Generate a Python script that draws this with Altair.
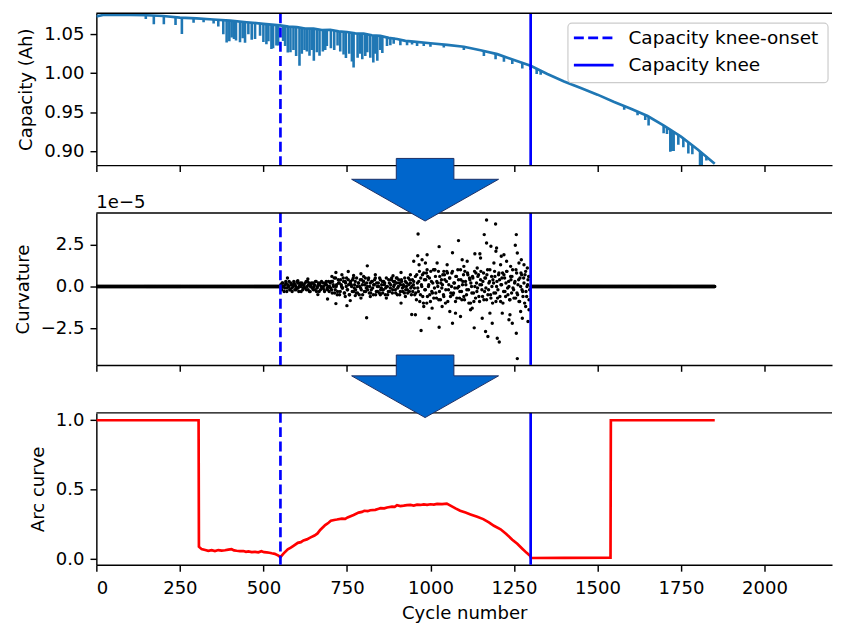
import altair as alt
import pandas as pd
import numpy as np

FONT = "DejaVu Sans"
FS = 18.2
W = 741
H = 153
XMAX = 2202
KNEE_ONSET = 551
KNEE = 1300

# ---- Capacity (Ah): baseline trace ----
cap_cycles = [0, 20, 100, 150, 200, 250, 300, 350, 400, 450, 500, 550, 575, 600, 625, 650,
              675, 700, 725, 750, 775, 800, 825, 850, 875, 900, 925, 950, 1000, 1050, 1100,
              1150, 1200, 1250, 1300, 1350, 1400, 1450, 1500, 1550, 1600, 1650, 1700, 1750,
              1800, 1851]
cap_values = [1.073, 1.0748, 1.075, 1.0745, 1.0735, 1.0715, 1.0705, 1.069, 1.0675, 1.0655,
              1.0635, 1.0615, 1.0598, 1.0592, 1.0575, 1.0572, 1.0555, 1.0558, 1.0538, 1.053,
              1.0512, 1.0508, 1.0488, 1.048, 1.0455, 1.044, 1.0415, 1.0405, 1.0385, 1.0365,
              1.034, 1.0295, 1.0245, 1.017, 1.0095, 0.999, 0.9895, 0.981, 0.9725, 0.963,
              0.9545, 0.945, 0.9325, 0.9185, 0.902, 0.8837]

# ---- Capacity dips (cycle, top, bottom) ----
dip_cycles = [148, 172, 202, 237, 256, 291, 321, 351, 365, 380, 390, 398, 405, 412, 418,
              430, 438, 445, 455, 465, 475, 490, 500, 509, 515, 524, 529, 539, 544, 559,
              565, 573, 581, 590, 598, 608, 615, 623, 630, 638, 645, 651, 660, 668, 678,
              685, 690, 702, 712, 722, 730, 740, 747, 757, 765, 770, 782, 790, 796, 805,
              811, 820, 829, 835, 841, 850, 856, 870, 880, 890, 910, 930, 945, 960, 980,
              1000, 1040, 1100, 1160, 1195, 1220, 1245, 1275, 1300, 1318, 1330, 1580,
              1620, 1643, 1653, 1698, 1708, 1718, 1722, 1728, 1742, 1757, 1772, 1784,
              1807, 1812, 1826]
dip_tops = [1.0745, 1.0742, 1.0735, 1.072, 1.0715, 1.0705, 1.070, 1.069, 1.0685, 1.068,
            1.068, 1.0678, 1.0675, 1.0672, 1.067, 1.0665, 1.066, 1.066, 1.0655, 1.065,
            1.0648, 1.064, 1.0638, 1.0632, 1.063, 1.0625, 1.0622, 1.062, 1.0618, 1.061,
            1.0608, 1.0605, 1.060, 1.0597, 1.0593, 1.0588, 1.0585, 1.058, 1.0578, 1.0575,
            1.0572, 1.057, 1.0568, 1.0565, 1.056, 1.0558, 1.0558, 1.0555, 1.055, 1.0545,
            1.054, 1.0535, 1.053, 1.0525, 1.0522, 1.052, 1.0513, 1.051, 1.0507, 1.0503,
            1.050, 1.0495, 1.049, 1.0488, 1.0485, 1.048, 1.0477, 1.047, 1.046, 1.0455,
            1.0435, 1.042, 1.041, 1.040, 1.039, 1.0385, 1.037, 1.034, 1.0285, 1.025,
            1.0215, 1.018, 1.0135, 1.0095, 1.006, 1.004, 0.958, 0.951, 0.9465, 0.945,
            0.933, 0.930, 0.928, 0.927, 0.925, 0.921, 0.916, 0.911, 0.907, 0.8995, 0.898,
            0.893]
dip_bottoms = [1.0695, 1.063, 1.063, 1.0618, 1.0504, 1.065, 1.0655, 1.064, 1.060, 1.050,
               1.0395, 1.041, 1.046, 1.044, 1.042, 1.0398, 1.045, 1.039, 1.050, 1.043,
               1.044, 1.048, 1.040, 1.0373, 1.041, 1.031, 1.032, 1.0355, 1.0355, 1.0415,
               1.035, 1.0266, 1.027, 1.030, 1.022, 1.0097, 1.025, 1.030, 1.028, 1.0224,
               1.030, 1.016, 1.027, 1.0224, 1.028, 1.030, 1.035, 1.032, 1.030, 1.0355,
               1.028, 1.024, 1.0195, 1.025, 1.015, 1.0075, 1.020, 1.025, 1.018, 1.022,
               1.027, 1.020, 1.0139, 1.025, 1.016, 1.030, 1.026, 1.035, 1.036, 1.038,
               1.036, 1.036, 1.037, 1.035, 1.035, 1.034, 1.033, 1.030, 1.022, 1.018,
               1.0148, 1.012, 1.006, 1.004, 0.999, 0.998, 0.953, 0.946, 0.940, 0.933,
               0.923, 0.922, 0.899, 0.900, 0.900, 0.908, 0.905, 0.897, 0.896, 0.882, 0.882,
               0.888]

# ---- Curvature (units of 1e-5) ----
flat_before = list(range(0, KNEE_ONSET))
flat_after = list(range(KNEE + 1, 1852))
band_early = [0.1, -0.2, 0.2, 0.0, -0.1, 0.3, -0.3, 0.1, 0.0, -0.2, 0.2, -0.1, 0.1, 0.3,
              -0.2, 0.0, -0.1, 0.2, -0.3, 0.1, 0.0, 0.2, -0.2, 0.1, -0.1, 0.3, 0.0, -0.2,
              0.2, -0.3, 0.1, -0.1, 0.2, 0.0, -0.2, 0.3, -0.1, 0.1, -0.3, 0.2, 0.0, -0.1,
              0.2, -0.2, 0.1, 0.3, -0.1, 0.0, -0.3, 0.2]
band_early2 = [-0.1, 0.2, 0.0, -0.3, 0.1, 0.2, -0.1, 0.0, 0.3, -0.2, 0.1, -0.3, 0.0, 0.2,
               0.1, -0.2, 0.3, -0.1, 0.0, 0.2, -0.3, 0.1, -0.1, 0.0, 0.2, -0.2, 0.3, 0.1,
               -0.3, 0.0, 0.2, -0.1, -0.2, 0.1, 0.3, -0.3, 0.0, 0.2, 0.1, -0.2, 0.3, -0.1,
               0.0, -0.3, 0.2, 0.1, -0.2, 0.3, 0.0, -0.1]
band_mid = [0.3, -0.4, 0.1, 0.5, -0.2, 0.0, -0.5, 0.4, 0.2, -0.3, 0.1, -0.1, 0.5, -0.4,
            0.3, 0.0, -0.2, 0.4, -0.5, 0.2, 0.1, -0.3, 0.5, -0.1, 0.3, -0.4, 0.0, 0.2,
            -0.5, 0.4, -0.2, 0.1, 0.3, -0.3, 0.5, -0.1, 0.0, 0.4, -0.4, 0.2, -0.2, 0.3,
            -0.5, 0.1, 0.5, -0.3, 0.0, 0.2, -0.4, 0.4, -0.1, 0.3, -0.2, 0.1, -0.5, 0.5,
            0.0, -0.3, 0.2, -0.1, 0.4, -0.4, 0.3, 0.1, -0.2, 0.5, -0.5, 0.0, 0.2, -0.3,
            0.4, -0.1, 0.1, -0.4, 0.3, 0.0, -0.2, 0.5, -0.3, 0.2, -0.5, 0.4, 0.1, -0.1]
band_mid2 = [-0.2, 0.3, 0.0, -0.4, 0.5, 0.1, -0.3, 0.2, -0.5, 0.4, 0.0, -0.1, 0.3, -0.4,
             0.2, 0.5, -0.2, 0.1, -0.5, 0.3, 0.0, 0.4, -0.3, 0.1, -0.2, 0.5, -0.4, 0.2,
             0.0, -0.1, 0.4, -0.5, 0.3, 0.1, -0.3, 0.2, -0.2, 0.5, 0.0, -0.4, 0.3, -0.1,
             0.1, 0.4, -0.5, 0.2, -0.3, 0.0, 0.5, -0.2, 0.1, -0.4, 0.3, 0.2, -0.1, 0.0,
             -0.5, 0.4, -0.3, 0.1, 0.5, -0.2, 0.0, 0.3, -0.4, 0.2, -0.1, 0.4, -0.5, 0.1,
             0.3, -0.3, 0.0, 0.5, -0.2, 0.2, -0.4, 0.1, 0.4, -0.1, 0.0, -0.3, 0.3, -0.5]
band_late = [0.6, -0.8, 0.2, -0.3, 0.9, -0.5, 0.1, 0.7, -1.0, 0.4, -0.2, 0.8, -0.6, 0.0,
             0.5, -0.9, 0.3, -0.4, 1.0, -0.1, 0.6, -0.7, 0.2, 0.9, -0.3, -0.8, 0.4, 0.1,
             -0.5, 0.7, -1.0, 0.3, 0.8, -0.2, 0.5, -0.6, 0.0, 0.9, -0.4, 0.2, -0.9, 0.6,
             -0.1, 0.4, -0.7, 1.0, -0.3, 0.1, 0.7, -0.8, 0.3, -0.5, 0.8, -0.2, 0.5, -1.0,
             0.0, 0.6, -0.4, 0.9, -0.7, 0.2, -0.1, 0.7, -0.9, 0.4, 0.1, -0.6, 0.8, -0.3,
             0.5, -0.8, 1.0, -0.2, 0.3, -0.5, 0.6, -1.0, 0.2, 0.9, -0.4, 0.0, -0.7, 0.7,
             0.4, -0.9, 0.1, 0.8, -0.3, 0.5, -0.6, 0.9, -0.1, 0.3, -0.8, 0.6, -0.4, 1.0,
             -0.2, 0.2, -0.7, 0.8, -0.5, 0.4, -0.9, 0.0, 0.7, -0.3, 0.5, -1.0, 0.9, -0.6,
             0.1, 0.6, -0.2]
band_late2 = [-0.4, 0.7, -0.1, 0.3, -0.9, 0.5, 0.0, -0.6, 0.8, -0.2, 0.4, -1.0, 0.6, 0.1,
              -0.5, 0.9, -0.3, 0.2, -0.7, 1.0, -0.4, 0.3, 0.0, -0.8, 0.6, 0.2, -0.1, 0.7,
              -0.6, 0.4, -0.2, 0.9, -0.9, 0.1, 0.5, -0.4, 0.8, -0.5, 0.2, -0.1, 0.6, -0.7,
              1.0, 0.0, -0.3, 0.4, -0.8, 0.3, -0.6, 0.9, 0.1, -0.2, 0.7, -1.0, 0.4, 0.2,
              -0.4, 0.5, -0.9, 0.0, 0.8, -0.3, 0.6, -0.6, 0.1, 0.9, -0.2, 0.3, -0.8, 0.5,
              -0.1, 0.7, -0.5, 0.2, 1.0, -0.7, 0.0, 0.4, -0.4, 0.6, -0.9, 0.3, -0.2, 0.8,
              -0.6, 0.1, 0.5, -1.0, 0.7, -0.3, 0.2, 0.9, -0.5, 0.0, -0.8, 0.4, 0.6, -0.1,
              -0.7, 0.3, 1.0, -0.4, 0.1, -0.9, 0.5, 0.8, -0.2, -0.6, 0.2, 0.7, -0.3, 0.0,
              0.4, -0.8, 0.6]
out_cycles = [572, 603, 633, 663, 692, 705, 717, 717, 735, 745, 750, 754, 760, 770, 775,
              792, 792, 800, 809, 811, 820, 835, 850, 868, 888, 900, 912, 912, 925, 940,
              944, 950, 955, 962, 963, 966, 972, 975, 985, 990, 990, 996, 1005, 1013, 1026,
              1026, 1035, 1040, 1050, 1066, 1066, 1075, 1084, 1090, 1100, 1110, 1120, 1131,
              1133, 1140, 1148, 1155, 1161, 1165, 1168, 1168, 1172, 1181, 1185, 1190, 1195,
              1196, 1198, 1200, 1206, 1210, 1215, 1220, 1228, 1235, 1240, 1245, 1254, 1257,
              1257, 1260, 1260, 1265, 1270, 1275, 1280, 1285, 1290, 1295,
              980, 1020, 1058, 1095, 1125, 1150, 1178, 1212, 1238, 1272, 1292]
out_values = [0.5, 0.34, 0.45, -0.49, -0.75, 0.6, 0.83, -1.03, 0.7, -0.6, -1.15, 0.89,
              -0.85, 0.65, -0.55, 0.76, -0.7, 0.6, -1.88, 1.23, -0.6, 0.7, -0.5, -0.7, 0.64,
              0.5, 0.83, -1.0, -0.6, 0.7, -1.68, 1.5, -1.7, 1.84, 3.14, 1.3, -2.64, 1.6, 1.4,
              1.9, 1.0, -1.9, -1.3, 1.0, 2.38, -2.44, -1.2, 0.9, 1.3, 2.02, -2.2, -1.6, 2.74,
              -1.8, 1.2, 1.5, -1.4, -2.48, 1.95, 1.1, 1.95, -1.9, 3.1, -2.7, 3.97, 2.6, -3.0,
              2.4, -2.2, 1.4, 3.73, 2.1, 2.3, -3.1, -3.33, 1.3, -1.6, 1.9, 1.5, -2.0, 1.2,
              -2.2, 2.46, 3.1, -2.8, 2.0, -4.32, 1.4, -1.5, -1.9, 1.3, -1.2, 1.1, -1.4,
              -1.2, 1.4, -1.5, 1.6, -1.3, 1.7, -1.6, 1.8, -1.7, 1.6, -2.1]

# ---- Arc curve ----
arc_cycles = [0, 306, 307, 315, 326, 335, 345, 355, 365, 375, 385, 395, 405, 412, 420, 430,
              440, 448, 455, 465, 475, 485, 494, 502, 510, 518, 525, 534, 545, 551, 560,
              573, 582, 590, 603, 612, 620, 630, 640, 653, 662, 670, 685, 695, 702, 712,
              720, 735, 745, 752, 770, 785, 795, 802, 812, 820, 835, 845, 851, 862, 870,
              885, 893, 900, 910, 920, 930, 940, 950, 960, 970, 980, 990, 1000, 1010, 1020,
              1035, 1049, 1060, 1075, 1089, 1105, 1120, 1140, 1158, 1175, 1190, 1210, 1227,
              1245, 1260, 1275, 1288, 1299, 1301, 1400, 1539, 1540, 1851]
arc_values = [1.0, 1.0, 0.09, 0.072, 0.066, 0.060, 0.064, 0.058, 0.065, 0.061, 0.064,
              0.068, 0.071, 0.063, 0.060, 0.058, 0.058, 0.052, 0.055, 0.050, 0.052, 0.049,
              0.057, 0.050, 0.048, 0.046, 0.042, 0.038, 0.025, 0.014, 0.04, 0.07, 0.082,
              0.095, 0.117, 0.122, 0.135, 0.142, 0.155, 0.17, 0.185, 0.21, 0.245, 0.262,
              0.276, 0.282, 0.285, 0.292, 0.290, 0.30, 0.318, 0.335, 0.34, 0.348, 0.345,
              0.352, 0.355, 0.362, 0.367, 0.366, 0.372, 0.378, 0.376, 0.388, 0.382, 0.385,
              0.389, 0.39, 0.386, 0.392, 0.39, 0.394, 0.391, 0.395, 0.393, 0.398, 0.396,
              0.40, 0.385, 0.365, 0.348, 0.335, 0.322, 0.305, 0.288, 0.265, 0.24, 0.215,
              0.181, 0.14, 0.11, 0.075, 0.045, 0.022, 0.008, 0.009, 0.01, 1.0, 1.0]

knee_labels = ["Capacity knee-onset", "Capacity knee"]
knee_cycles = [KNEE_ONSET, KNEE]

# ---------------- tables ----------------
cap_df = pd.DataFrame({"cycle": cap_cycles, "value": cap_values})
dip_df = pd.DataFrame({"cycle": dip_cycles, "top": dip_tops, "bottom": dip_bottoms})
curv_df = pd.concat([
    pd.DataFrame({"cycle": flat_before, "value": 0.0}),
    pd.DataFrame({"cycle": np.linspace(552, 700, len(band_early)).round(), "value": band_early}),
    pd.DataFrame({"cycle": np.linspace(553, 701, len(band_early2)).round(), "value": band_early2}),
    pd.DataFrame({"cycle": np.linspace(703, 952, len(band_mid)).round(), "value": band_mid}),
    pd.DataFrame({"cycle": np.linspace(704, 953, len(band_mid2)).round(), "value": band_mid2}),
    pd.DataFrame({"cycle": np.linspace(955, 1297, len(band_late)).round(), "value": band_late}),
    pd.DataFrame({"cycle": np.linspace(956, 1298, len(band_late2)).round(), "value": band_late2}),
    pd.DataFrame({"cycle": out_cycles, "value": out_values}),
    pd.DataFrame({"cycle": flat_after, "value": 0.0}),
], ignore_index=True)
arc_df = pd.DataFrame({"cycle": arc_cycles, "value": arc_values})
knee_df = pd.DataFrame({"cycle": knee_cycles, "label": knee_labels})
one = pd.DataFrame({"a": [0]})

BLUE_LINE = "#1f77b4"
ARROW_PATH = ("M-0.392,-0.426L0.392,-0.426L0.392,-0.142L1,-0.142L0,0.426"
              "L-1,-0.142L-0.392,-0.142Z")


def xenc(labels=False, title=None):
    axis_kw = dict(values=list(range(0, 2001, 250)), labels=labels, format="d",
                   title=title if title else None)
    return alt.X("cycle:Q", scale=alt.Scale(domain=[0, XMAX], nice=False, zero=False),
                 axis=alt.Axis(**axis_kw))


def top_spine():
    return alt.Chart(one).mark_rule(color="black", strokeWidth=1.45).encode(
        x=alt.value(0), x2=alt.value(W), y=alt.value(0))


def knee_rules(**xkw):
    onset = alt.Chart(knee_df.iloc[[0]]).mark_rule(
        color="blue", strokeWidth=2.7, strokeDash=[10, 4.4]).encode(x=xenc(**xkw))
    knee = alt.Chart(knee_df.iloc[[1]]).mark_rule(
        color="blue", strokeWidth=2.7).encode(x=xenc(**xkw))
    return onset + knee


def arrow(yoff):
    return alt.Chart(one).mark_point(
        shape=ARROW_PATH, size=148 * 148, filled=True, fill="#0066cc",
        stroke="#1c2f66", strokeWidth=1, opacity=1, clip=False,
    ).encode(x=alt.datum(984), y=alt.value(yoff))


# ---- legend (drawn in panel 1, matplotlib style) ----
LX0, LX1, LY0, LY1 = 475, 737, 10, 70
legend_box = alt.Chart(one).mark_rect(
    fill="white", fillOpacity=0.8, stroke="#cccccc", strokeWidth=1.2, cornerRadius=4
).encode(x=alt.value(LX0), x2=alt.value(LX1), y=alt.value(LY0), y2=alt.value(LY1))
leg_line1 = alt.Chart(one).mark_rule(color="blue", strokeWidth=2.7, strokeDash=[10, 4.4]).encode(
    x=alt.value(481), x2=alt.value(521), y=alt.value(24.8))
leg_line2 = alt.Chart(one).mark_rule(color="blue", strokeWidth=2.7).encode(
    x=alt.value(481), x2=alt.value(521), y=alt.value(52.3))
leg_txt1 = alt.Chart(knee_df.iloc[[0]]).mark_text(
    align="left", baseline="alphabetic", fontSize=18.6, font=FONT, color="black"
).encode(text="label:N", x=alt.value(536), y=alt.value(30.8))
leg_txt2 = alt.Chart(knee_df.iloc[[1]]).mark_text(
    align="left", baseline="alphabetic", fontSize=18.6, font=FONT, color="black"
).encode(text="label:N", x=alt.value(536), y=alt.value(58.2))

# ---- panel 1 ----
CAP_SCALE = alt.Scale(domain=[0.882, 1.0771], nice=False, zero=False)
cap_line = alt.Chart(cap_df).mark_line(color=BLUE_LINE, strokeWidth=2.7, clip=True).encode(
    x=xenc(),
    y=alt.Y("value:Q", scale=CAP_SCALE,
            axis=alt.Axis(values=[0.90, 0.95, 1.00, 1.05], format=".2f",
                          title="Capacity (Ah)")))
dips = alt.Chart(dip_df).mark_rule(color=BLUE_LINE, strokeWidth=2.6, clip=True).encode(
    x=xenc(), y=alt.Y("top:Q", scale=CAP_SCALE), y2="bottom:Q")
panel1 = alt.layer(cap_line, dips, knee_rules(), top_spine(), legend_box, leg_line1,
                   leg_line2, leg_txt1, leg_txt2).properties(width=W, height=H)

# ---- panel 2 ----
curv = alt.Chart(curv_df).mark_circle(color="black", size=12, opacity=1, clip=True).encode(
    x=xenc(),
    y=alt.Y("value:Q", scale=alt.Scale(domain=[-4.7, 4.39], nice=False, zero=False),
            axis=alt.Axis(values=[-2.5, 0.0, 2.5], format=".1f", title="Curvature")))
offset_txt = alt.Chart(one).mark_text(text="1e\u22125", align="left", baseline="alphabetic",
                                      fontSize=FS, font=FONT, color="black").encode(
    x=alt.value(0), y=alt.value(-5))
panel2 = alt.layer(curv, knee_rules(), offset_txt, top_spine(), arrow(-23.5)).properties(
    width=W, height=H)

# ---- panel 3 ----
XLAB = dict(labels=True, title="Cycle number")
arc = alt.Chart(arc_df).mark_line(color="red", strokeWidth=2.7, clip=True).encode(
    x=xenc(**XLAB),
    y=alt.Y("value:Q", scale=alt.Scale(domain=[-0.041, 1.053], nice=False, zero=False),
            axis=alt.Axis(values=[0.0, 0.5, 1.0], format=".1f", title="Arc curve")))
panel3 = alt.layer(arc, knee_rules(**XLAB), top_spine(), arrow(-26.8)).properties(
    width=W, height=H)

chart = alt.vconcat(panel1, panel2, panel3, spacing=48.3, bounds="flush").properties(
    padding={"left": 5, "top": 1, "right": 0, "bottom": 0}
).configure_view(stroke=None).configure_axis(
    domainColor="black", domainWidth=1.45, tickColor="black", tickWidth=1.45, tickSize=6.4,
    labelFont=FONT, labelFontSize=FS, labelColor="black", labelPadding=6,
    titleFont=FONT, titleFontSize=FS, titleFontWeight="normal", titleColor="black",
    titlePadding=8, grid=False,
).configure_axisX(labelPadding=9, titlePadding=8).configure_text(font=FONT)

chart.save("out.html", embed_options={"renderer": "svg", "actions": False})
